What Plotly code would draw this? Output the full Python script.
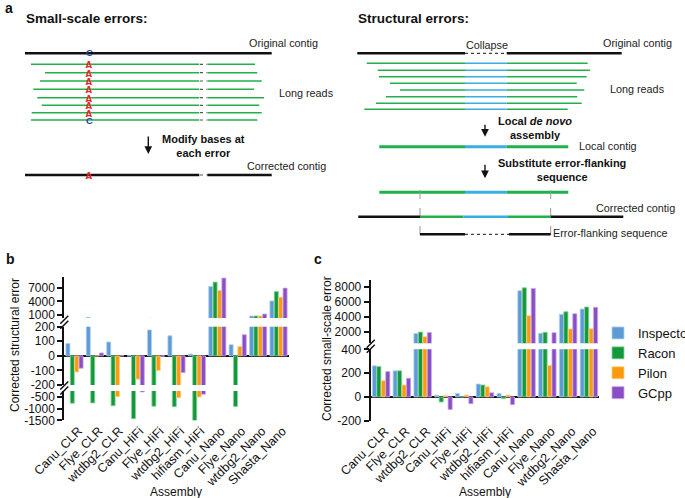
import plotly.graph_objects as go

# ---------------- data ----------------
categories = ["Canu_CLR", "Flye_CLR", "wtdbg2_CLR", "Canu_HiFi", "Flye_HiFi",
              "wtdbg2_HiFi", "hifiasm_HiFi", "Canu_Nano", "Flye_Nano",
              "wtdbg2_Nano", "Shasta_Nano"]
series_names = ["Inspector", "Racon", "Pilon", "GCpp"]

# panel b: corrected structural error
b_inspector = [85, 400, 95, 0, 178, 138, 12, 7350, 77, 700, 4100]
b_racon = [-770, -760, -880, -1430, -900, -920, -1530, 8350, -910, 700, 6250]
b_pilon = [-110, 0, -490, -160, -100, -540, -510, 6450, 65, 700, 4950]
b_gcpp = [-85, 20, 0, -290, -3, -115, -390, 9250, 145, 1150, 7000]

# panel c: corrected small-scale error
c_inspector = [261, 219, 1770, 14, 28, 108, 28, 7470, 1790, 4320, 5030]
c_racon = [255, 219, 1950, -43, 0, 100, -15, 7870, 1920, 4670, 5300]
c_pilon = [136, 100, 1330, 10, 15, 85, 15, 4130, 264, 2360, 2400]
c_gcpp = [213, 157, 1900, -105, -57, 34, -65, 7780, 1870, 4400, 5250]

b_top_ticks = [1000, 4000, 7000]
b_mid_ticks = [-200, -100, 0, 100, 200]
b_bot_ticks = [-1500, -1000, -500]
c_top_ticks = [2000, 4000, 6000, 8000]
c_bot_ticks = [-200, 0, 200, 400]

colors = ["#5d9bd6", "#13993b", "#fb9a0c", "#8a4dc6"]
edge_colors = ["#b3d0ee", "#86d39a", "#fdd08f", "#c8a8e6"]

# ---------------- layout helpers ----------------
W, H = 685, 498
FONT = "Liberation Sans, Arial, Helvetica, sans-serif"


def X(px):
    return px / W


def Y(py):
    return 1 - py / H


fig = go.Figure()

b_series = [b_inspector, b_racon, b_pilon, b_gcpp]
c_series = [c_inspector, c_racon, c_pilon, c_gcpp]

# panel b: three broken-axis segments share x
for ax in ["y", "y2", "y3"]:
    for i, name in enumerate(series_names):
        fig.add_trace(go.Bar(x=categories, y=b_series[i], name=name,
                             marker=dict(color=colors[i],
                                         line=dict(color=edge_colors[i], width=0.8)),
                             xaxis="x", yaxis=ax, showlegend=False))
# panel c: two segments
for ax in ["y4", "y5"]:
    for i, name in enumerate(series_names):
        fig.add_trace(go.Bar(x=categories, y=c_series[i], name=name,
                             marker=dict(color=colors[i],
                                         line=dict(color=edge_colors[i], width=0.8)),
                             xaxis="x2", yaxis=ax, showlegend=(ax == "y4")))

tickfont = dict(size=12, color="#111", family=FONT)


def yax(domain, rng, ticks, anchor, zeroline=False):
    return dict(domain=domain, range=rng, tickvals=ticks,
                ticktext=[str(t) for t in ticks], anchor=anchor,
                showline=True, linecolor="#111", linewidth=2,
                ticks="outside", ticklen=5, tickwidth=1.5, tickcolor="#111",
                showgrid=False, zeroline=zeroline, zerolinecolor="#111",
                zerolinewidth=2, tickfont=tickfont, fixedrange=True)


xcommon = dict(showline=False, ticks="", showgrid=False, zeroline=False,
               tickangle=-45, tickfont=dict(size=12.5, color="#111", family=FONT),
               range=[-0.5, 10.5], type="category", fixedrange=True,
               ticklabelshift=4)

fig.update_layout(
    width=W, height=H,
    margin=dict(l=0, r=0, t=0, b=0, autoexpand=False),
    paper_bgcolor="white", plot_bgcolor="rgba(0,0,0,0)",
    barmode="group", bargap=0.14, bargroupgap=0.08,
    font=dict(family=FONT, color="#111"),
    xaxis=dict(domain=[X(64.3), X(288.7)], anchor="y", **xcommon),
    xaxis2=dict(domain=[X(370.7), X(599.3)], anchor="y4", **xcommon),
    yaxis=yax([Y(420.3), Y(391)], [-1500, -250], b_bot_ticks, "x"),
    yaxis2=yax([Y(385), Y(326.7)], [-200, 200], b_mid_ticks, "x", zeroline=True),
    yaxis3=yax([Y(318), Y(277)], [250, 9500], b_top_ticks, "x"),
    yaxis4=yax([Y(420.7), Y(349.3)], [-200, 400], c_bot_ticks, "x2", zeroline=True),
    yaxis5=yax([Y(343.3), Y(280)], [450, 8900], c_top_ticks, "x2"),
    legend=dict(x=X(598), y=Y(318), xanchor="left", yanchor="top",
                font=dict(size=13, family=FONT, color="#111"),
                bgcolor="rgba(0,0,0,0)", tracegroupgap=0),
)

shapes = []
ann = []


def hline(x0, x1, y, color, width, dash="solid"):
    shapes.append(dict(type="line", xref="paper", yref="paper",
                       x0=X(x0), x1=X(x1), y0=Y(y), y1=Y(y),
                       line=dict(color=color, width=width, dash=dash)))


def vline(x, y0, y1, color, width, dash="solid"):
    shapes.append(dict(type="line", xref="paper", yref="paper",
                       x0=X(x), x1=X(x), y0=Y(y0), y1=Y(y1),
                       line=dict(color=color, width=width, dash=dash)))


def seg(x0, y0, x1, y1, color="#111", width=1.5):
    shapes.append(dict(type="line", xref="paper", yref="paper",
                       x0=X(x0), x1=X(x1), y0=Y(y0), y1=Y(y1),
                       line=dict(color=color, width=width)))


def txt(x, y, s, size=10.8, anchor="left", color="#222", yanchor="middle", height=None):
    d = dict(xref="paper", yref="paper", x=X(x), y=Y(y), text=s,
             showarrow=False, xanchor=anchor, yanchor=yanchor,
             font=dict(size=size, color=color, family=FONT))
    if height is not None:
        d["height"] = height
        d["borderpad"] = 0
    ann.append(d)


def arrow(x, y0, y1):
    ann.append(dict(xref="paper", yref="paper", x=X(x), y=Y(y1), ax=0,
                    ay=-(y1 - y0), axref="pixel", ayref="pixel", text="",
                    showarrow=True, arrowhead=2, arrowsize=1.1, arrowwidth=1.4,
                    arrowcolor="#111"))


BLACK = "#111111"
GREEN = "#22b04b"
LBLUE = "#3aaee2"
RED = "#e8262a"
DBLUE = "#2b3f9e"
DOT = "#555555"

# ---------------- panel a: small-scale errors ----------------
txt(3, 8, "<b>a</b>", size=14, color="#111")
txt(24, 18.5, "<b>Small-scale errors:</b>", size=13.5, color="#111")
hline(25, 271.7, 53.3, BLACK, 2.5)
txt(320, 43.3, "Original contig", anchor="right")
reads_y = [64.3, 72.7, 81, 89.3, 97.7, 105.3, 112.7, 120]
reads_x0 = [31, 45, 40, 33.3, 37.3, 41.7, 31.7, 31]
reads_x1 = [255, 257.3, 261.7, 254, 264, 259.3, 261.7, 257.3]
for yy, a0, a1 in zip(reads_y, reads_x0, reads_x1):
    hline(a0, 199.3, yy, GREEN, 1.5)
    hline(200, 206.5, yy, DOT, 1.2, "dot")
    hline(207.3, a1, yy, GREEN, 1.5)
txt(89, 52.8, "<b>C</b>", size=9.5, anchor="center", color=DBLUE, height=7)
for k, yy in enumerate(reads_y):
    if k < 7:
        txt(89, yy + 0.5, "<b>A</b>", size=10.5, anchor="center", color=RED, height=7)
    else:
        txt(89, yy + 0.5, "<b>C</b>", size=9.5, anchor="center", color=DBLUE, height=7)
txt(276.5, 93.3, "Long reads")
arrow(148.3, 135, 154)
txt(159.5, 146, "<b>Modify bases at<br>each error</b>", size=11, color="#111")
txt(328, 165.7, "Corrected contig", anchor="right")
hline(25, 199.3, 175, BLACK, 2.5)
hline(200, 206.5, 175, DOT, 1.2, "dot")
hline(207.3, 271.7, 175, BLACK, 2.5)
txt(89, 175.5, "<b>A</b>", size=10.5, anchor="center", color=RED, height=7)

# ---------------- panel a: structural errors ----------------
txt(356, 18.5, "<b>Structural errors:</b>", size=13.5, color="#111")
hline(357.3, 465, 53.3, BLACK, 2.5)
hline(465, 506.7, 53.3, BLACK, 1, "dot")
hline(506.7, 621.7, 53.3, BLACK, 2.5)
txt(486.7, 45, "Collapse", anchor="center")
txt(674, 43.3, "Original contig", anchor="right")
rreads_y = [63.3, 70.3, 76.7, 83.3, 90, 96.7, 103.3, 109.3]
rreads_x0 = [366.7, 377.7, 379, 390, 400, 386, 376, 364.3]
rreads_x1 = [587.7, 590, 586.7, 576.7, 584.3, 577.3, 581.7, 567.7]
for yy, a0, a1 in zip(rreads_y, rreads_x0, rreads_x1):
    hline(a0, 465, yy, GREEN, 1.5)
    hline(465, 506.7, yy, LBLUE, 1.5)
    hline(506.7, a1, yy, GREEN, 1.5)
txt(608, 89.3, "Long reads")
arrow(485, 123.3, 136.7)
txt(496, 128, "<b>Local <i>de novo</i><br>assembly</b>", size=11, color="#111")
hline(379.3, 465, 146.7, GREEN, 3)
hline(465, 506.7, 146.7, LBLUE, 3)
hline(506.7, 568.3, 146.7, GREEN, 3)
txt(577, 146, "Local contig")
arrow(485, 163.3, 178.3)
txt(496, 170, "<b>Substitute error-flanking<br>sequence</b>", size=11, color="#111")
hline(379.3, 465, 192.3, GREEN, 3)
hline(465, 506.7, 192.3, LBLUE, 3)
hline(506.7, 568.3, 192.3, GREEN, 3)
vline(420, 190, 237, "#999999", 1, "dash")
vline(550.7, 190, 237, "#999999", 1, "dash")
hline(358.3, 420, 216.7, BLACK, 2.5)
hline(420, 463.3, 216.7, GREEN, 2.5)
hline(463.3, 508, 216.7, LBLUE, 2.5)
hline(508, 550.7, 216.7, GREEN, 2.5)
hline(550.7, 623.3, 216.7, BLACK, 2.5)
txt(677, 208.3, "Corrected contig", anchor="right")
hline(420, 465, 234.3, BLACK, 2.5)
hline(465, 509, 234.3, BLACK, 1, "dot")
hline(509, 550.7, 234.3, BLACK, 2.5)
txt(670, 233.3, "Error-flanking sequence", anchor="right")

# ---------------- panels b / c labels ----------------
txt(4, 259, "<b>b</b>", size=14, color="#111")
txt(312, 259, "<b>c</b>", size=14, color="#111")
ann.append(dict(xref="paper", yref="paper", x=X(15), y=Y(345), text="Corrected structural error",
                textangle=-90, showarrow=False, xanchor="center", yanchor="middle",
                font=dict(size=12, color="#111", family=FONT)))
ann.append(dict(xref="paper", yref="paper", x=X(327), y=Y(349), text="Corrected small-scale error",
                textangle=-90, showarrow=False, xanchor="center", yanchor="middle",
                font=dict(size=12, color="#111", family=FONT)))
txt(176.5, 491.5, "Assembly", size=12, anchor="center", color="#111")
txt(485, 491.5, "Assembly", size=12, anchor="center", color="#111")

# axis break marks
for (xc, yc) in [(64.3, 322.3), (64.3, 388), (370.7, 346.3)]:
    for dy in (-2.5, 2.5):
        seg(xc - 4, yc + dy + 4, xc + 4, yc + dy - 4, "#111", 1.5)

fig.update_layout(shapes=shapes, annotations=ann)
fig.write_html("out.html", config={"displayModeBar": False},
               post_script="document.body.style.margin='0';document.body.style.overflow='hidden';")
